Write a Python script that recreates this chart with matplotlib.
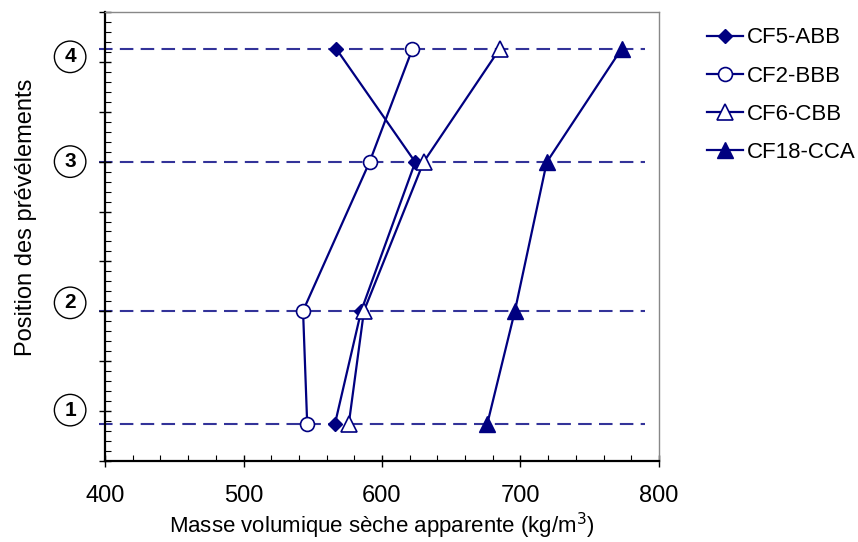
import matplotlib.pyplot as plt
from matplotlib.ticker import MultipleLocator, NullFormatter

plt.rcParams['font.family'] = ['Liberation Sans', 'DejaVu Sans']

# sampling positions (vertical scale, 0-9)
positions = [0.74, 3.01, 5.99, 8.26]
position_names = ['1', '2', '3', '4']
label_pos = [1.02, 3.17, 6.0, 8.1]

# dry bulk density (kg/m3) per sample, from level 1 to 4
cf5_abb = [566, 585, 624, 567]
cf2_bbb = [546, 543, 591, 622]
cf6_cbb = [576, 587, 630, 685]
cf18_cca = [676, 696, 719, 773]

navy = '#000080'
dash_col = '#333399'

fig = plt.figure(figsize=(8.58, 5.42), dpi=100)
ax = fig.add_axes([0.1224, 0.1494, 0.6456, 0.8286])

for p in positions:
    ln, = ax.plot([396, 790], [p, p], color=dash_col, lw=1.5, clip_on=False, zorder=1)
    ln.set_dashes([6.5, 3.5])

ax.plot(cf5_abb, positions, color=navy, lw=1.6, marker='D', ms=7,
        mfc=navy, mec=navy, label='CF5-ABB', zorder=3)
ax.plot(cf2_bbb, positions, color=navy, lw=1.6, marker='o', ms=10,
        mfc='white', mec=navy, mew=1.2, label='CF2-BBB', zorder=3)
ax.plot(cf6_cbb, positions, color=navy, lw=1.6, marker='^', ms=11,
        mfc='white', mec=navy, mew=1.2, label='CF6-CBB', zorder=3)
ax.plot(cf18_cca, positions, color=navy, lw=1.6, marker='^', ms=11,
        mfc=navy, mec=navy, label='CF18-CCA', zorder=3)

ax.set_xlim(400, 800)
ax.set_ylim(0, 9)

ax.xaxis.set_major_locator(MultipleLocator(100))
ax.xaxis.set_minor_locator(MultipleLocator(20))
ax.yaxis.set_major_locator(MultipleLocator(1))
ax.yaxis.set_minor_locator(MultipleLocator(0.2))
ax.yaxis.set_major_formatter(NullFormatter())

ax.tick_params(axis='both', which='major', direction='inout', length=8, width=1, labelsize=17)
ax.tick_params(axis='both', which='minor', direction='in', length=4, width=0.8)
ax.tick_params(axis='x', pad=13)

for s in ['left', 'bottom']:
    ax.spines[s].set_linewidth(1.6)
    ax.spines[s].set_color('black')
for s in ['top', 'right']:
    ax.spines[s].set_linewidth(1)
    ax.spines[s].set_color('#888888')

for name, y in zip(position_names, label_pos):
    ax.text(-0.063, y, name, transform=ax.get_yaxis_transform(), ha='center', va='center',
            fontsize=15, fontweight='bold',
            bbox=dict(boxstyle='circle,pad=0.3', fc='white', ec='black', lw=1))

ax.set_xlabel('Masse volumique sèche apparente (kg/m$^3$)', fontsize=16, labelpad=3)
ax.set_ylabel('Position des prévélements', fontsize=17)
ax.yaxis.set_label_coords(-0.122, 0.543)

ax.legend(loc='upper left', bbox_to_anchor=(1.05, 1.01), frameon=False, fontsize=16,
          handlelength=1.65, labelspacing=0.77, handletextpad=0.15)

fig.savefig('out.png', dpi=100)
